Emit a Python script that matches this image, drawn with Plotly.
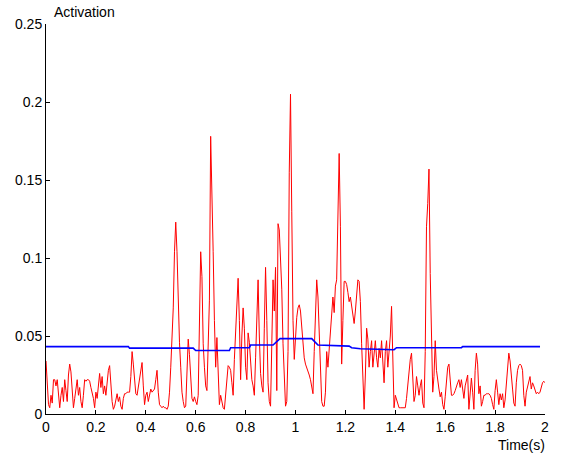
import numpy as np
import plotly.graph_objects as go

# Sampling step of the activation trace (seconds)
dt = 0.005

# Activation trace, sampled every 5 ms, split into consecutive time blocks
act_000_345 = [
    .034, .018, .006, .004, .012, .007, .022, .022, .018, .022,
    .010, .004, .012, .017, .008, .022, .015, .008, .025, .032,
    .027, .016, .004, .010, .018, .022, .012, .017, .008, .004,
    .012, .022, .021, .022, .022, .021, .017, .014, .010, .004,
    .014, .010, .020, .026, .017, .024, .013, .018, .012, .022,
    .028, .031, .018, .008, .003, .005, .009, .013, .008, .011,
    .005, .003, .010, .013, .013, .014, .014, .014, .024, .040,
]
act_350_680 = [
    .032, .022, .013, .012, .018, .024, .030, .033, .018, .006,
    .012, .014, .008, .013, .016, .014, .015, .016, .022, .028,
    .014, .006, .005, .004, .005, .004, .004, .003, .005, .014,
    .030, .045, .068, .104, .123, .104, .068, .046, .030, .014,
    .008, .004, .005, .030, .048, .038, .020, .010, .008, .011,
    .008, .006, .012, .060, .104, .088, .045, .030, .018, .015,
    .040, .073, .178, .148, .104, .060, .030,
]
act_685_1015 = [
    .049, .025, .006, .012, .008, .004, .003, .012, .024, .031,
    .030, .028, .020, .012, .035, .055, .075, .087, .060, .022,
    .050, .068, .055, .030, .022, .052, .046, .030, .022, .018,
    .012, .036, .068, .086, .050, .026, .018, .014, .055, .094,
    .060, .020, .008, .005, .045, .086, .066, .094, .015, .122,
    .118, .100, .080, .045, .020, .005, .008, .040, .155, .205,
    .130, .060, .035, .050, .062, .068, .070,
]
act_1020_1355 = [
    .066, .055, .043, .036, .032, .030, .028, .025, .022, .018,
    .013, .040, .069, .086, .075, .050, .025, .008, .005, .005,
    .014, .040, .030, .042, .053, .070, .075, .065, .082, .086,
    .133, .167, .120, .032, .060, .085, .085, .083, .078, .072,
    .075, .068, .062, .058, .066, .080, .086, .085, .072, .045,
    .017, .003, .025, .055, .048, .030, .040, .047, .030, .042,
    .047, .036, .030, .042, .036, .047, .030, .020,
]
act_1360_1690 = [
    .040, .047, .030, .038, .050, .069, .040, .004, .012, .009,
    .006, .004, .004, .004, .004, .004, .004, .010, .020, .030,
    .035, .039, .022, .008, .012, .024, .018, .012, .018, .022,
    .007, .004, .040, .120, .135, .157, .090, .040, .014, .024,
    .047, .028, .020, .016, .011, .014, .006, .003, .011, .024,
    .030, .032, .024, .012, .012, .013, .015, .018, .020, .022,
    .017, .022, .017, .010, .018, .022, .025,
]
act_1695_2000 = [
    .003, .015, .023, .014, .003, .028, .039, .032, .013, .018,
    .005, .008, .012, .012, .013, .013, .013, .012, .010, .006,
    .003, .015, .022, .014, .006, .013, .009, .013, .004, .009,
    .018, .030, .039, .034, .022, .016, .007, .005, .020, .028,
    .031, .032, .031, .028, .012, .005, .014, .018, .022, .024,
    .016, .020, .018, .015, .013, .014, .013, .014, .018, .020,
    .021, .020,
]

# Smoothed mean activation (step-like baseline)
mean_t = [0.0, 0.330, 0.335, 0.590, 0.600, 0.735, 0.740, 0.815, 0.820,
          0.910, 0.938, 1.065, 1.090, 1.215, 1.225, 1.260, 1.395, 1.405,
          1.665, 1.670, 1.980]
mean_v = [.0432, .0432, .0422, .0422, .0407, .0407, .0425, .0425, .0442,
          .0442, .0483, .0483, .0442, .0435, .0425, .0418, .0412, .0425,
          .0425, .0432, .0432]

x_ticks = [0, 0.2, 0.4, 0.6, 0.8, 1.0, 1.2, 1.4, 1.6, 1.8, 2.0]
x_tick_text = ["0", "0.2", "0.4", "0.6", "0.8", "1", "1.2", "1.4", "1.6", "1.8", "2"]
y_ticks = [0, 0.05, 0.1, 0.15, 0.2, 0.25]
y_tick_text = ["0", "0.05", "0.1", "0.15", "0.2", "0.25"]

activation = (act_000_345 + act_350_680 + act_685_1015 +
              act_1020_1355 + act_1360_1690 + act_1695_2000)
t = np.round(np.arange(len(activation)) * dt, 3)

font_family = "Liberation Sans, Arial, sans-serif"

fig = go.Figure()
fig.add_trace(go.Scatter(x=t, y=activation, mode="lines",
                         line=dict(color="#ff0000", width=1),
                         showlegend=False, hoverinfo="skip"))
fig.add_trace(go.Scatter(x=mean_t, y=mean_v, mode="lines",
                         line=dict(color="#0000ff", width=1.6),
                         showlegend=False, hoverinfo="skip"))

axis_common = dict(showline=True, linecolor="black", linewidth=1,
                   ticks="inside", ticklen=4, tickcolor="black", tickwidth=1,
                   showgrid=False, zeroline=False,
                   tickfont=dict(family=font_family, size=14, color="black"))

fig.update_layout(
    width=567, height=458,
    margin=dict(l=46, r=22, t=24, b=44),
    paper_bgcolor="white", plot_bgcolor="white",
    xaxis=dict(range=[0, 2], tickvals=x_ticks, ticktext=x_tick_text, **axis_common),
    yaxis=dict(range=[0, 0.25], tickvals=y_ticks, ticktext=y_tick_text, **axis_common),
    annotations=[
        dict(text="Activation", xref="paper", yref="paper", x=0, y=1,
             xanchor="left", yanchor="middle", xshift=6, yshift=12,
             showarrow=False, font=dict(family=font_family, size=14, color="black")),
        dict(text="Time(s)", xref="paper", yref="paper", x=1, y=0,
             xanchor="right", yanchor="middle", xshift=2, yshift=-31,
             showarrow=False, font=dict(family=font_family, size=14, color="black")),
    ],
)

fig.write_html("out.html")
